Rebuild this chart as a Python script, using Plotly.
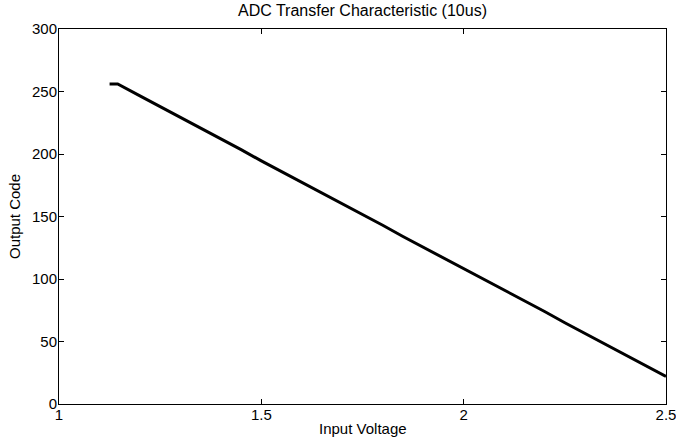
import plotly.graph_objects as go

# Input voltage (V) and ADC output code
input_voltage = [1.125, 1.145, 1.20, 1.25, 1.30, 1.35, 1.40, 1.45, 1.50, 1.55,
                 1.60, 1.65, 1.70, 1.75, 1.80, 1.85, 1.90, 1.95, 2.00, 2.05,
                 2.10, 2.15, 2.20, 2.25, 2.30, 2.35, 2.40, 2.45, 2.50]
output_code = [256, 256, 246.5, 238, 229, 220.5, 212, 203.5, 194.5, 186,
               177.5, 169, 160, 151.5, 143, 134, 125.5, 117, 108.5, 99.5,
               91, 82.5, 74, 65, 56.5, 48, 39, 30.5, 22]

x_ticks = [1, 1.5, 2, 2.5]
x_tick_labels = ["1", "1.5", "2", "2.5"]
y_ticks = [0, 50, 100, 150, 200, 250, 300]

FONT = "Liberation Sans, Arial, sans-serif"

fig = go.Figure()
fig.add_trace(go.Scatter(x=input_voltage, y=output_code, mode="lines",
                         line=dict(color="black", width=3), showlegend=False,
                         hoverinfo="skip"))

axis_common = dict(showline=True, linecolor="black", linewidth=1, mirror="allticks",
                   ticks="inside", ticklen=5, tickcolor="black", tickwidth=1,
                   showgrid=False, zeroline=False, automargin=False,
                   ticklabeloverflow="allow",
                   tickfont=dict(family=FONT, size=15, color="black"))

fig.update_xaxes(range=[1, 2.5], tickvals=x_ticks, ticktext=x_tick_labels,
                 ticklabelstandoff=-3, **axis_common)
fig.update_yaxes(range=[0, 300], tickvals=y_ticks, ticklabelstandoff=-2, **axis_common)

fig.update_layout(
    width=676, height=437,
    margin=dict(l=59, r=10, t=29, b=33),
    paper_bgcolor="white", plot_bgcolor="white",
    font=dict(family=FONT, color="black"),
    annotations=[
        dict(text="ADC Transfer Characteristic (10us)", xref="paper", yref="paper",
             x=0.5, y=1, yshift=8, xanchor="center", yanchor="bottom",
             showarrow=False, font=dict(family=FONT, size=16, color="black")),
        dict(text="Input Voltage", xref="paper", yref="paper",
             x=0.5, y=0, yshift=-14, xanchor="center", yanchor="top",
             showarrow=False, font=dict(family=FONT, size=15, color="black")),
        dict(text="Output Code", xref="paper", yref="paper",
             x=0, y=0.5, xshift=-34, xanchor="right", yanchor="middle", textangle=-90,
             showarrow=False, font=dict(family=FONT, size=15, color="black")),
    ],
)

fig.write_html("out.html", config={"displayModeBar": False},
               post_script="document.body.style.margin='0';document.body.style.overflow='hidden';")
